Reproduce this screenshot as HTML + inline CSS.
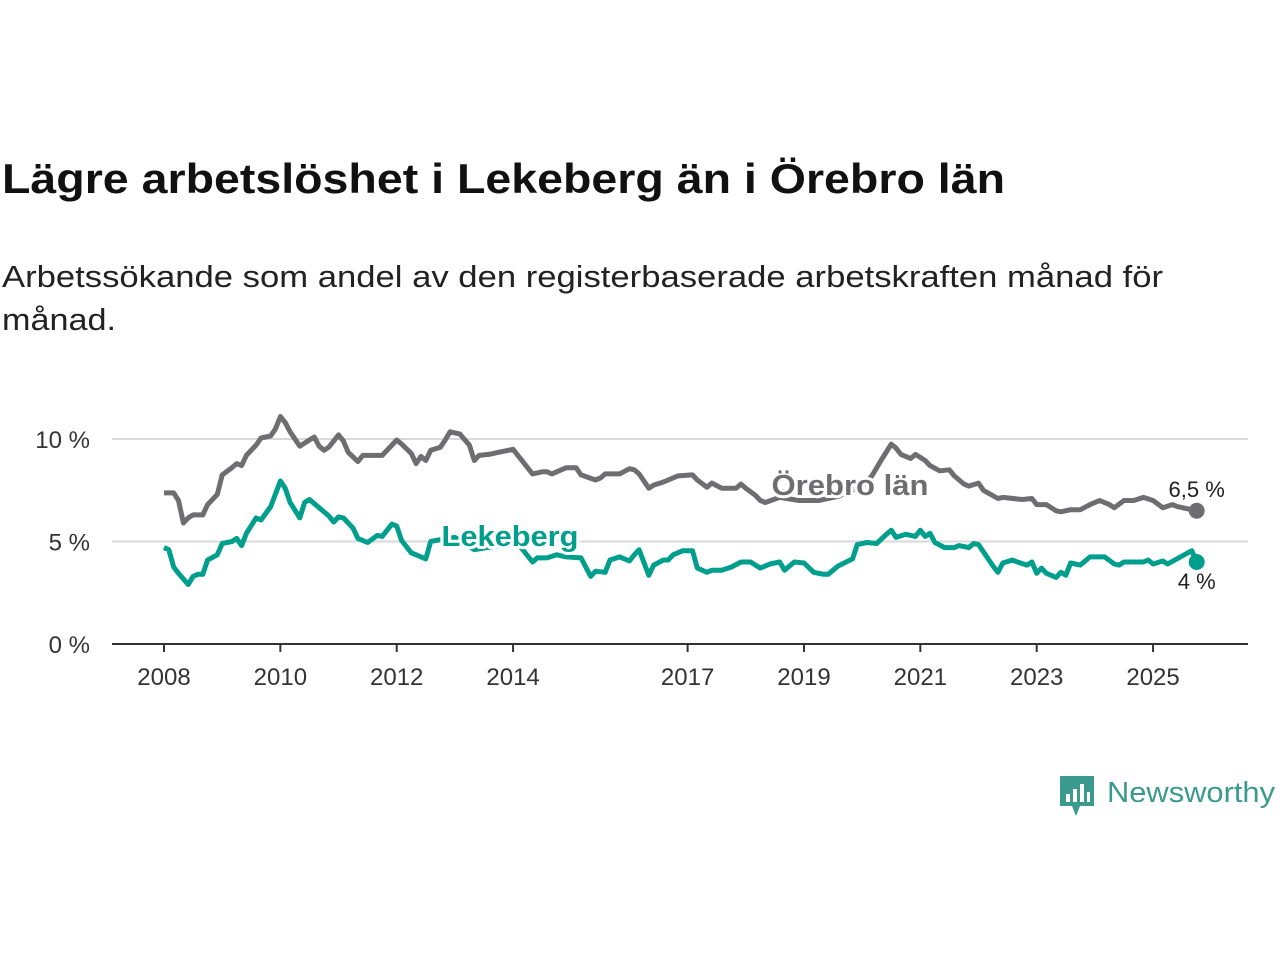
<!DOCTYPE html>
<html><head><meta charset="utf-8"><style>
html,body{margin:0;padding:0;background:#fff;}
svg{display:block;font-family:"Liberation Sans",sans-serif;}
.halo{paint-order:stroke;stroke:#fff;stroke-width:6px;stroke-linejoin:round;}
</style></head><body>
<svg id="chart" width="1280" height="960" viewBox="0 0 1280 960">
<text x="2" y="193" font-size="42" font-weight="bold" fill="#111" textLength="1003" lengthAdjust="spacingAndGlyphs">Lägre arbetslöshet i Lekeberg än i Örebro län</text>
<text x="2" y="287" font-size="31" fill="#222" textLength="1161" lengthAdjust="spacingAndGlyphs">Arbetssökande som andel av den registerbaserade arbetskraften månad för</text>
<text x="2" y="330" font-size="31" fill="#222" textLength="114" lengthAdjust="spacingAndGlyphs">månad.</text>
<g id="grid"></g><g id="axes"></g><g id="series"></g><g id="labels"></g>
<g>
<path d="M1060 776 h34 v30 h-14 l-4 10 l-4 -10 h-12 z" fill="#3a9a8e"/>
<rect x="1066" y="794" width="4" height="8" fill="#fff"/><rect x="1073" y="789" width="4" height="13" fill="#fff"/><rect x="1080" y="784" width="4" height="18" fill="#fff"/><rect x="1087" y="792" width="3" height="10" fill="#fff"/>
<text x="1107" y="802" font-size="29" fill="#3a9a8e" textLength="168" lengthAdjust="spacingAndGlyphs">Newsworthy</text>
</g>
</svg>
<script>
const yTicks=[0,5,10];
const yTickLabels=["0 %","5 %","10 %"];
const xTicks=[2008,2010,2012,2014,2017,2019,2021,2023,2025];
const orebroMonths=[0,2,3,4,5,6,8,9,11,12,14,15,16,17,19,20,22,23,24,25,26,28,30,31,32,33,34,36,37,38,40,41,45,47,48,49,51,52,53,54,55,57,58,59,61,63,64,65,67,69,72,73,75,76,78,79,80,81,83,85,86,89,90,91,94,96,97,98,100,101,103,106,109,110,112,113,115,118,119,120,122,123,124,127,131,135,139,144,146,148,150,151,152,154,155,157,158,160,162,163,165,166,168,169,172,173,177,179,180,182,184,185,187,189,191,193,195,196,198,200,202,204,206,208,209,213];
const orebroValues=[7.37,7.37,7.0,5.9,6.15,6.3,6.3,6.8,7.3,8.25,8.6,8.8,8.7,9.2,9.7,10.05,10.15,10.5,11.1,10.8,10.35,9.65,9.95,10.1,9.65,9.45,9.6,10.2,9.9,9.35,8.9,9.2,9.2,9.7,9.95,9.75,9.3,8.8,9.15,8.95,9.45,9.6,9.95,10.35,10.25,9.7,8.95,9.2,9.25,9.35,9.5,9.2,8.6,8.3,8.4,8.4,8.3,8.4,8.6,8.6,8.25,8.0,8.1,8.3,8.3,8.55,8.5,8.3,7.6,7.75,7.9,8.2,8.25,8.0,7.65,7.85,7.6,7.6,7.8,7.6,7.25,7.0,6.9,7.15,7.0,7.0,7.2,7.7,8.2,9.0,9.75,9.55,9.25,9.05,9.25,8.95,8.7,8.45,8.5,8.2,7.8,7.7,7.85,7.5,7.1,7.15,7.05,7.1,6.8,6.8,6.5,6.45,6.55,6.55,6.8,7.0,6.8,6.65,7.0,7.0,7.15,7.0,6.65,6.8,6.7,6.5];
const lekebergMonths=[0,1,2,3,5,6,7,8,9,11,12,14,15,16,17,19,20,22,24,25,26,28,29,30,32,34,35,36,37,39,40,42,44,45,47,48,49,51,52,54,55,56,60,64,69,73,76,77,79,81,83,86,88,89,91,92,94,96,97,98,100,101,103,104,105,107,109,110,112,113,115,117,119,121,123,125,127,128,130,132,134,136,137,139,142,143,145,147,149,150,151,153,155,156,157,158,159,161,163,164,166,167,168,169,171,172,173,175,176,178,179,180,181,182,184,185,186,187,189,191,194,196,197,198,202,203,204,206,207,210,212,213];
const lekebergValues=[4.7,4.6,3.75,3.45,2.9,3.3,3.4,3.4,4.1,4.35,4.9,5.0,5.15,4.8,5.4,6.15,6.05,6.7,7.95,7.6,6.9,6.15,6.9,7.05,6.65,6.25,5.95,6.2,6.15,5.65,5.15,4.95,5.3,5.25,5.85,5.75,5.05,4.45,4.35,4.15,5.0,5.05,5.2,4.6,4.8,4.9,4.0,4.2,4.2,4.35,4.25,4.2,3.3,3.55,3.5,4.1,4.25,4.05,4.35,4.6,3.35,3.85,4.1,4.1,4.35,4.55,4.55,3.7,3.5,3.6,3.6,3.75,4.0,4.0,3.7,3.9,4.0,3.6,4.0,3.95,3.5,3.4,3.4,3.8,4.15,4.85,4.95,4.9,5.35,5.55,5.2,5.35,5.25,5.55,5.25,5.4,4.95,4.7,4.7,4.8,4.7,4.9,4.85,4.5,3.8,3.5,3.95,4.1,4.0,3.85,4.0,3.45,3.7,3.45,3.25,3.5,3.35,3.95,3.85,4.25,4.25,3.9,3.85,4.0,4.0,4.1,3.9,4.05,3.9,4.3,4.55,4.0];
const NS="http://www.w3.org/2000/svg";
const X0=164,PX_YEAR=58.18,Y0=644,PX_PCT=20.5;
function xm(m){return X0+m/12*PX_YEAR;}
function xy(yr){return X0+(yr-2008)*PX_YEAR;}
function yv(v){return Y0-v*PX_PCT;}
function mk(tag,attrs,parent,text){const e=document.createElementNS(NS,tag);for(const k in attrs)e.setAttribute(k,attrs[k]);if(text!==undefined)e.textContent=text;parent.appendChild(e);return e;}
const grid=document.getElementById('grid'),axes=document.getElementById('axes'),series=document.getElementById('series'),labels=document.getElementById('labels');
yTicks.forEach((t,i)=>{
 if(t>0){const l=mk('line',{x1:112,x2:1248,y1:yv(t),y2:yv(t),stroke:'#d9d9d9','stroke-width':2},grid);
 
 }
 const tx=mk('text',{x:90,y:yv(t)+9,'font-size':24,fill:'#333','text-anchor':'end'},axes,yTickLabels[i]);
 
 
});
const ax=mk('line',{x1:112,x2:1248,y1:Y0,y2:Y0,stroke:'#333','stroke-width':2},axes);


xTicks.forEach(yr=>{
 const t=mk('line',{x1:xy(yr),x2:xy(yr),y1:Y0,y2:Y0+8,stroke:'#333','stroke-width':2},axes);
 
 
 const tx=mk('text',{x:xy(yr),y:Y0+41,'font-size':24,fill:'#333','text-anchor':'middle'},axes,String(yr));
 
 
});
function drawLine(ms,vs,color,name){
 const d=ms.map((m,i)=>(i?'L':'M')+xm(m).toFixed(1)+' '+yv(vs[i]).toFixed(1)).join(' ');
 const p=mk('path',{d:d,fill:'none',stroke:color,'stroke-width':5,'stroke-linejoin':'round'},series);
 
 
 const n=ms.length-1;
 const c=mk('circle',{cx:xm(ms[n]),cy:yv(vs[n]),r:8,fill:color},series);
 
 
 return [xm(ms[n]),yv(vs[n])];
}
const eo=drawLine(orebroMonths,orebroValues,'#6e6e70','orebro');
const el=drawLine(lekebergMonths,lekebergValues,'#009e8c','lekeberg');
const l1=mk('text',{x:850,y:495,'font-size':29,'font-weight':'bold',fill:'#6e6e70','text-anchor':'middle',class:'halo',textLength:157,lengthAdjust:'spacingAndGlyphs'},labels,'Örebro län');


const l2=mk('text',{x:510,y:546,'font-size':29,'font-weight':'bold',fill:'#009e8c','text-anchor':'middle',class:'halo',textLength:137,lengthAdjust:'spacingAndGlyphs'},labels,'Lekeberg');


const v1=mk('text',{x:eo[0],y:eo[1]-14,'font-size':22,fill:'#222','text-anchor':'middle',class:'halo'},labels,orebroValues[orebroValues.length-1].toString().replace('.',',')+' %');


const v2=mk('text',{x:el[0],y:el[1]+27,'font-size':22,fill:'#222','text-anchor':'middle',class:'halo'},labels,lekebergValues[lekebergValues.length-1].toString().replace('.',',')+' %');


</script>
</body></html>
